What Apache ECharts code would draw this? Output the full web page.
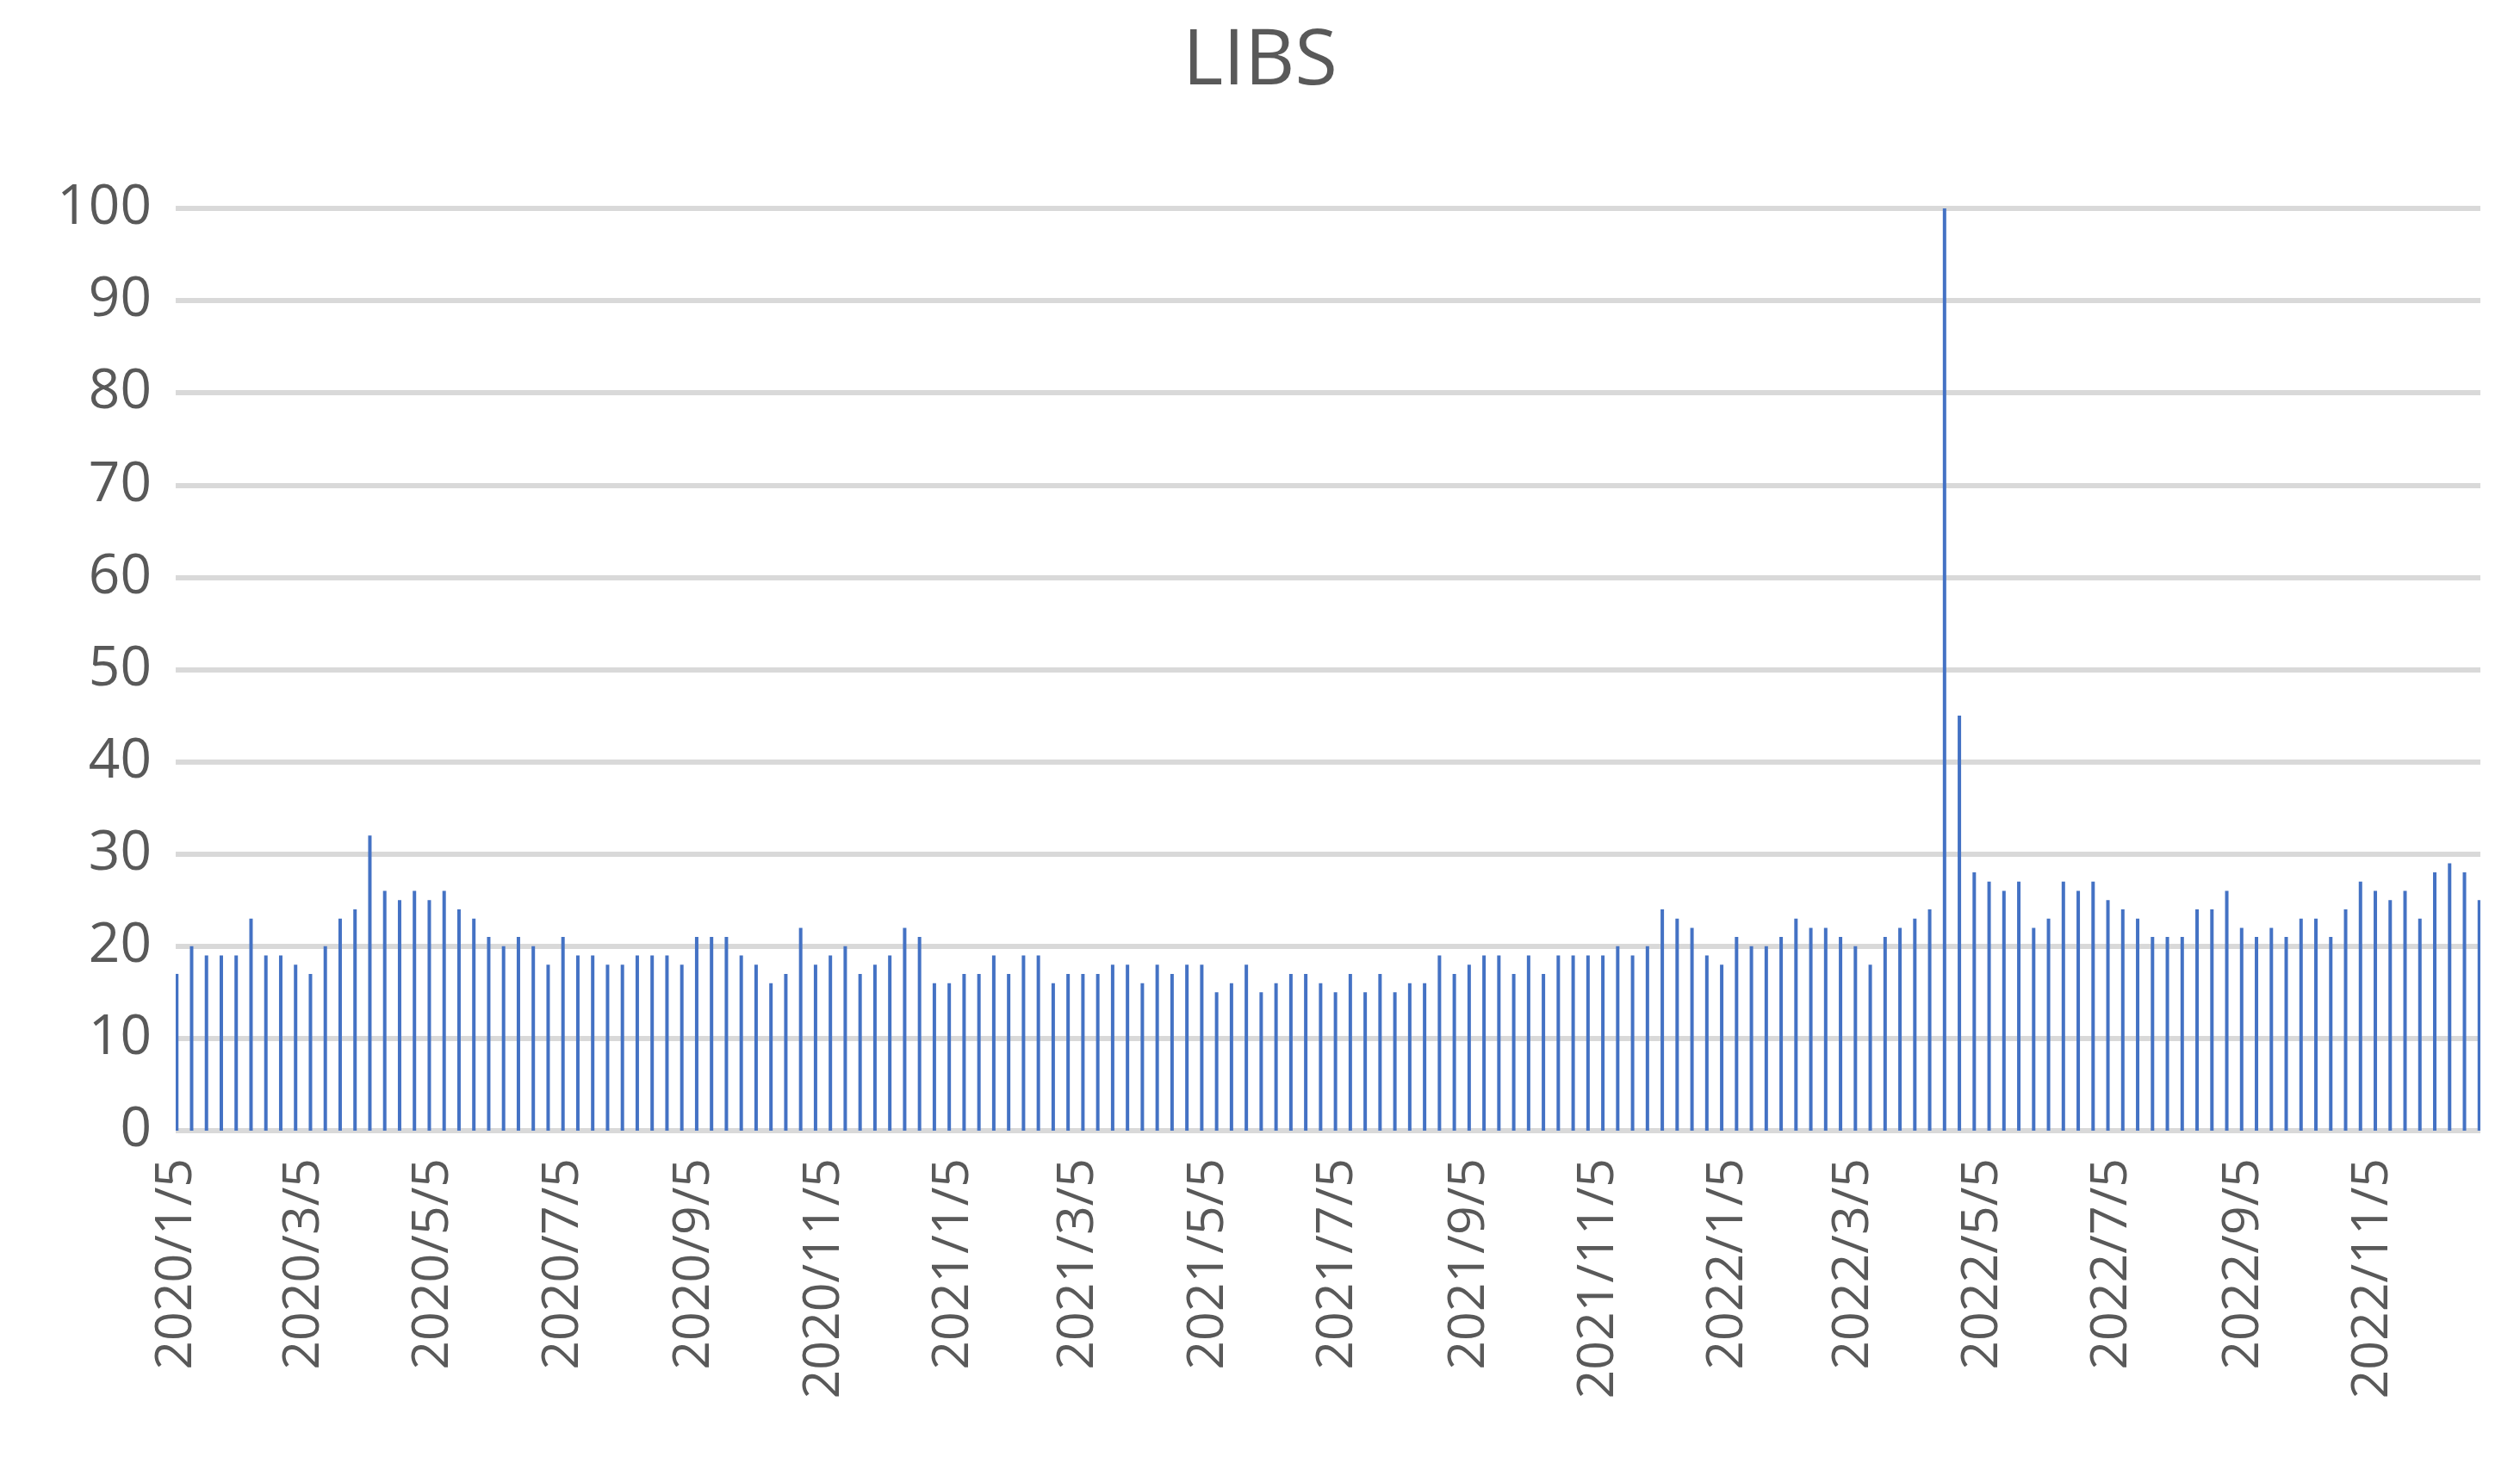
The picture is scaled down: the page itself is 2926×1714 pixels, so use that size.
<!DOCTYPE html>
<html>
<head>
<meta charset="utf-8">
<script src="https://cdn.jsdelivr.net/npm/echarts@6/dist/echarts.min.js"></script>
<style>
  html, body { margin: 0; padding: 0; background: #fff; }
  #chart { width: 2926px; height: 1714px; }
</style>
</head>
<body>
<div id="chart"></div>
<script>
// weekly values starting 2020/1/5
const startDate = '2020-01-05';
const endDate = '2022-12-25';
const values = [
  17, 20, 19, 19, 19, 23, 19, 19, 18, 17, 20, 23, 24, 32, 26, 25, 26, 25, 26, 24,
  23, 21, 20, 21, 20, 18, 21, 19, 19, 18, 18, 19, 19, 19, 18, 21, 21, 21, 19, 18,
  16, 17, 22, 18, 19, 20, 17, 18, 19, 22, 21, 16, 16, 17, 17, 19, 17, 19, 19, 16,
  17, 17, 17, 18, 18, 16, 18, 17, 18, 18, 15, 16, 18, 15, 16, 17, 17, 16, 15, 17,
  15, 17, 15, 16, 16, 19, 17, 18, 19, 19, 17, 19, 17, 19, 19, 19, 19, 20, 19, 20,
  24, 23, 22, 19, 18, 21, 20, 20, 21, 23, 22, 22, 21, 20, 18, 21, 22, 23, 24, 100,
  45, 28, 27, 26, 27, 22, 23, 27, 26, 27, 25, 24, 23, 21, 21, 21, 24, 24, 26, 22,
  21, 22, 21, 23, 23, 21, 24, 27, 26, 25, 26, 23, 28, 29, 28, 25
];

const DAY = 86400000;
const t0 = Date.parse(startDate + 'T00:00:00Z');
const t1 = Date.parse(endDate + 'T00:00:00Z');
const days = [];
const dayIdx = {};
for (let t = t0; t <= t1; t += DAY) {
  const d = new Date(t);
  const label = d.getUTCFullYear() + '/' + (d.getUTCMonth() + 1) + '/' + d.getUTCDate();
  dayIdx[t] = days.length;
  days.push(label);
}
const barData = days.map(() => null);
values.forEach((v, i) => { barData[dayIdx[t0 + i * 7 * DAY]] = v; });

const chart = echarts.init(document.getElementById('chart'));
chart.setOption({
  animation: false,
  title: {
    text: 'LIBS',
    left: 'center',
    top: 22,
    textStyle: { fontFamily: 'Open Sans', fontSize: 90, fontWeight: 'normal', color: '#595959' }
  },
  grid: { left: 204, right: 46, top: 242, bottom: 401 },
  xAxis: {
    type: 'category',
    data: days,
    boundaryGap: true,
    axisLine: { show: false },
    axisTick: { show: false },
    axisLabel: {
      rotate: 90,
      margin: 32,
      fontFamily: 'Open Sans',
      fontSize: 59,
      color: '#595959',
      interval: (i, v) => {
        const p = v.split('/');
        return p[2] === '5' && (+p[1]) % 2 === 1;
      }
    }
  },
  yAxis: {
    type: 'value',
    min: 0,
    max: 100,
    interval: 10,
    axisLine: { show: false },
    axisTick: { show: false },
    axisLabel: { fontFamily: 'Open Sans', fontSize: 64, color: '#595959', margin: 28 },
    splitLine: { lineStyle: { color: '#d9d9d9', width: 6 } }
  },
  series: [{
    type: 'bar',
    data: barData,
    barWidth: 4,
    barGap: '-100%',
    itemStyle: { color: '#4472c4' }
  }]
});
</script>
</body>
</html>
